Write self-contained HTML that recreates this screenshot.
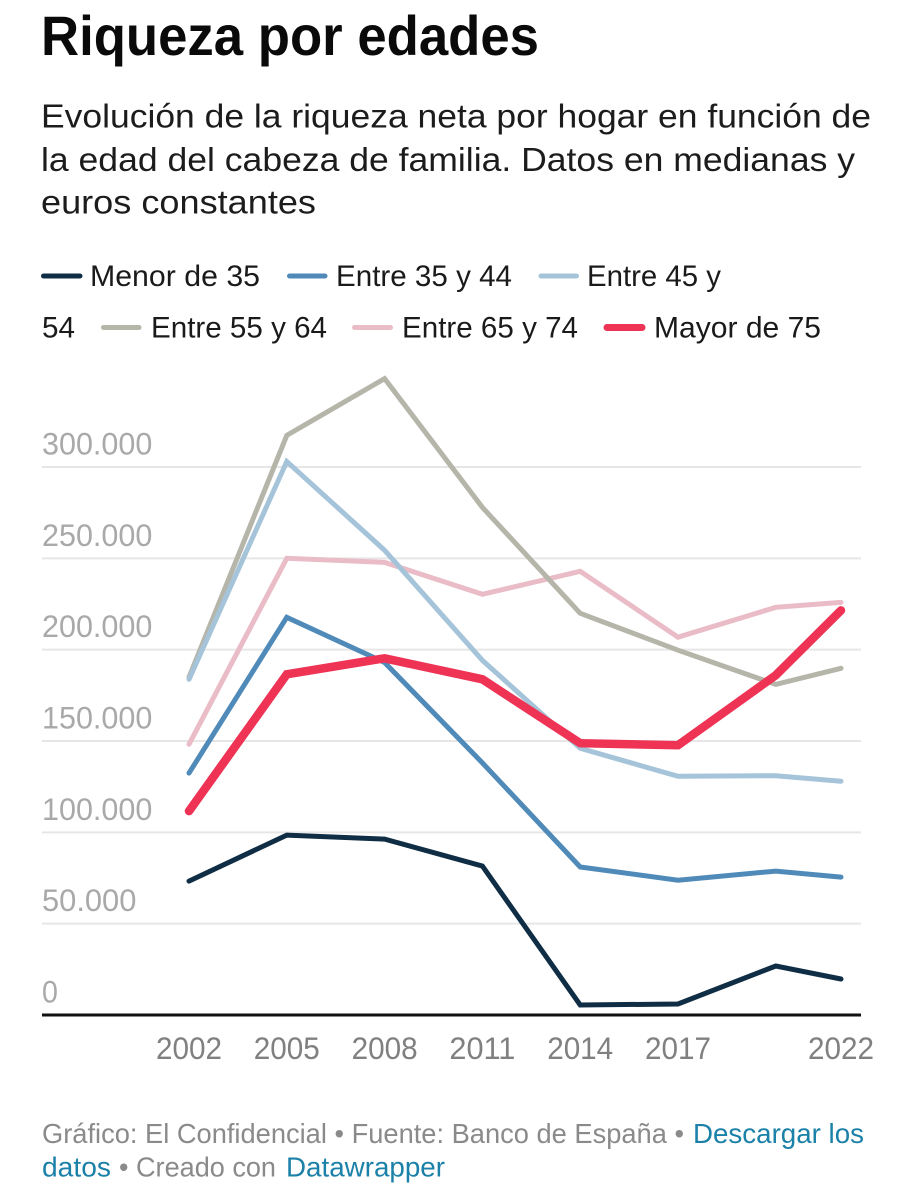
<!DOCTYPE html>
<html lang="es">
<head>
<meta charset="utf-8">
<title>Riqueza por edades</title>
<style>
html,body{margin:0;padding:0;background:#fff;}
#stage{display:block;width:921px;height:1200px;}
text{font-family:"Liberation Sans",sans-serif;}
</style>
</head>
<body>
<svg id="stage" xmlns="http://www.w3.org/2000/svg" width="921" height="1200" viewBox="0 0 921 1200">
  <text x="41" y="55" font-size="56" font-weight="700" fill="#0a0a0a" textLength="498" lengthAdjust="spacingAndGlyphs">Riqueza por edades</text>
  <g font-size="33.5" fill="#1c1c1c">
    <text x="41" y="127.5" textLength="830" lengthAdjust="spacingAndGlyphs">Evolución de la riqueza neta por hogar en función de</text>
    <text x="41" y="171" textLength="814" lengthAdjust="spacingAndGlyphs">la edad del cabeza de familia. Datos en medianas y</text>
    <text x="41" y="213.5" textLength="275" lengthAdjust="spacingAndGlyphs">euros constantes</text>
  </g>
  <g font-size="29.5" fill="#1a1a1a" stroke-linecap="round">
    <line x1="43.5" x2="80" y1="276" y2="276" stroke="#0f2d44" stroke-width="5"/>
    <text x="90" y="286" textLength="170" lengthAdjust="spacingAndGlyphs">Menor de 35</text>
    <line x1="289.5" x2="325" y1="276" y2="276" stroke="#4f8ab8" stroke-width="5"/>
    <text x="336" y="286" textLength="176" lengthAdjust="spacingAndGlyphs">Entre 35 y 44</text>
    <line x1="541" x2="576.5" y1="276" y2="276" stroke="#a5c4d9" stroke-width="5"/>
    <text x="587" y="286" textLength="134" lengthAdjust="spacingAndGlyphs">Entre 45 y</text>
    <text x="42" y="337.5" textLength="33" lengthAdjust="spacingAndGlyphs">54</text>
    <line x1="103.5" x2="139" y1="327.5" y2="327.5" stroke="#b5b5a9" stroke-width="5"/>
    <text x="151" y="337.5" textLength="176" lengthAdjust="spacingAndGlyphs">Entre 55 y 64</text>
    <line x1="354.5" x2="390.5" y1="327.5" y2="327.5" stroke="#e9bcc7" stroke-width="5"/>
    <text x="402" y="337.5" textLength="176" lengthAdjust="spacingAndGlyphs">Entre 65 y 74</text>
    <line x1="607" x2="642" y1="327.5" y2="327.5" stroke="#ee3355" stroke-width="7"/>
    <text x="654" y="337.5" textLength="167" lengthAdjust="spacingAndGlyphs">Mayor de 75</text>
  </g>
  <g id="grid"></g>
  <g id="ylabels"></g>
  <g id="series"></g>
  <line x1="42" x2="861" y1="1015" y2="1015" stroke="#111" stroke-width="3"/>
  <g id="xlabels"></g>
  <g font-size="27.5" fill="#8a8a8a">
    <text x="42" y="1143" textLength="642" lengthAdjust="spacingAndGlyphs">Gráfico: El Confidencial • Fuente: Banco de España •</text>
    <text x="693" y="1143" fill="#1c81a8" textLength="171" lengthAdjust="spacingAndGlyphs">Descargar los</text>
    <text x="42" y="1176.5" fill="#1c81a8" textLength="69" lengthAdjust="spacingAndGlyphs">datos</text>
    <text x="119" y="1176.5" textLength="157" lengthAdjust="spacingAndGlyphs">• Creado con</text>
    <text x="286" y="1176.5" fill="#1c81a8" textLength="159" lengthAdjust="spacingAndGlyphs">Datawrapper</text>
  </g>
</svg>
<script>
var years = [2002, 2005, 2008, 2011, 2014, 2017, 2020, 2022];
var xTickYears = [2002, 2005, 2008, 2011, 2014, 2017, 2022];
var yTicks = [0, 50000, 100000, 150000, 200000, 250000, 300000];
var yTickLabels = ['0', '50.000', '100.000', '150.000', '200.000', '250.000', '300.000'];

var menorDe35 = [73300, 98500, 96300, 81500, 5500, 6000, 26800, 19700];
var entre35y44 = [132400, 217700, 193000, 138000, 81000, 73800, 78800, 75500];
var entre45y54 = [183800, 303000, 254400, 194200, 146000, 130700, 131000, 128000];
var entre55y64 = [184900, 317300, 348400, 277900, 219900, 199700, 181000, 189800];
var entre65y74 = [148200, 250000, 247800, 230300, 242900, 206800, 223200, 225900];
var mayorDe75 = [111600, 186500, 195300, 183800, 148800, 147700, 186000, 221500];

var NS = 'http://www.w3.org/2000/svg';
function xScale(year) { return 189 + (year - 2002) * (841 - 189) / 20; }
function yScale(value) { return 1015 - value * (1015 - 467) / 300000; }

var gridGroup = document.getElementById('grid');
var yLabelGroup = document.getElementById('ylabels');
yTicks.forEach(function (tick, i) {
  var y = yScale(tick);
  if (tick !== 0) {
    var line = document.createElementNS(NS, 'line');
    
    
    line.setAttribute('x1', 42);
    line.setAttribute('x2', 861);
    line.setAttribute('y1', y);
    line.setAttribute('y2', y);
    line.setAttribute('stroke', '#e6e6e6');
    line.setAttribute('stroke-width', 2);
    gridGroup.appendChild(line);
  }
  var label = document.createElementNS(NS, 'text');
  
  
  label.setAttribute('x', 42);
  label.setAttribute('y', y - 12.5);
  label.setAttribute('font-size', 31.5);
  label.setAttribute('fill', '#a9a9a9');
  label.setAttribute('textLength', yTickLabels[i].length * 15.9 - (yTickLabels[i].length > 1 ? 1 : 0));
  label.setAttribute('lengthAdjust', 'spacingAndGlyphs');
  label.textContent = yTickLabels[i];
  yLabelGroup.appendChild(label);
});

var xLabelGroup = document.getElementById('xlabels');
xTickYears.forEach(function (year) {
  var label = document.createElementNS(NS, 'text');
  
  
  label.setAttribute('x', xScale(year) - 33);
  label.setAttribute('y', 1059);
  label.setAttribute('font-size', 31.5);
  label.setAttribute('fill', '#808080');
  label.setAttribute('textLength', 66);
  label.setAttribute('lengthAdjust', 'spacingAndGlyphs');
  label.textContent = String(year);
  xLabelGroup.appendChild(label);
});

var seriesGroup = document.getElementById('series');
function drawSeries(values, color, width, name) {
  var path = document.createElementNS(NS, 'polyline');
  
  
  path.setAttribute('points', values.map(function (v, i) {
    return xScale(years[i]).toFixed(1) + ',' + yScale(v).toFixed(1);
  }).join(' '));
  path.setAttribute('fill', 'none');
  path.setAttribute('stroke', color);
  path.setAttribute('stroke-width', width);
  path.setAttribute('stroke-linecap', 'round');
  path.setAttribute('stroke-linejoin', 'miter');
  seriesGroup.appendChild(path);
}
drawSeries(entre65y74, '#e9bcc7', 5, 'line-entre-65-y-74');
drawSeries(entre55y64, '#b5b5a9', 5, 'line-entre-55-y-64');
drawSeries(entre45y54, '#a5c4d9', 5, 'line-entre-45-y-54');
drawSeries(entre35y44, '#4f8ab8', 5, 'line-entre-35-y-44');
drawSeries(menorDe35, '#0f2d44', 5, 'line-menor-de-35');
drawSeries(mayorDe75, '#ee3355', 8.5, 'line-mayor-de-75');
</script>
</body>
</html>
